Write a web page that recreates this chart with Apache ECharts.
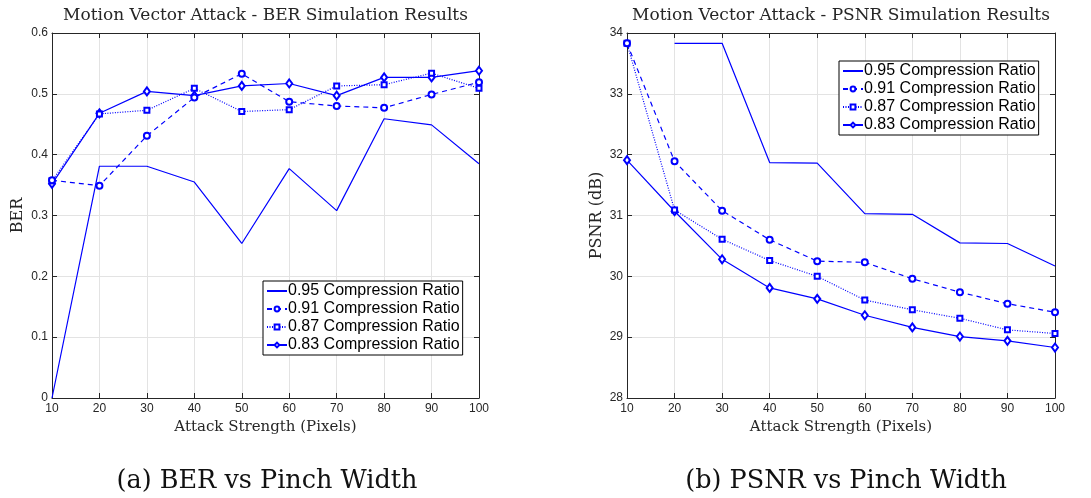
<!DOCTYPE html>
<html>
<head>
<meta charset="utf-8">
<script src="https://cdn.jsdelivr.net/npm/echarts@6/dist/echarts.min.js"></script>
<style>
html,body{margin:0;padding:0;background:#fff;}
#chart{width:1091px;height:498px;}
</style>
</head>
<body>
<div id="chart"></div>
<script>
// ---------- data ----------
const xValues = [10, 20, 30, 40, 50, 60, 70, 80, 90, 100];
const seriesNames = ['0.95 Compression Ratio', '0.91 Compression Ratio', '0.87 Compression Ratio', '0.83 Compression Ratio'];

const ber095 = [0.000, 0.381, 0.381, 0.355, 0.254, 0.377, 0.308, 0.459, 0.449, 0.385];
const ber091 = [0.358, 0.349, 0.431, 0.494, 0.533, 0.487, 0.480, 0.477, 0.499, 0.519];
const ber087 = [0.357, 0.467, 0.473, 0.509, 0.471, 0.474, 0.513, 0.515, 0.534, 0.509];
const ber083 = [0.352, 0.468, 0.504, 0.497, 0.513, 0.517, 0.497, 0.527, 0.527, 0.538];

const psnr095 = [null, 33.83, 33.83, 31.87, 31.86, 31.03, 31.02, 30.55, 30.54, 30.17];
const psnr091 = [33.83, 31.89, 31.08, 30.60, 30.25, 30.23, 29.96, 29.74, 29.55, 29.41];
const psnr087 = [33.83, 31.09, 30.61, 30.26, 30.00, 29.61, 29.45, 29.31, 29.12, 29.06];
const psnr083 = [31.91, 31.07, 30.28, 29.81, 29.63, 29.36, 29.16, 29.01, 28.94, 28.83];

const titles = ['Motion Vector Attack - BER Simulation Results', 'Motion Vector Attack - PSNR Simulation Results'];
const yNames = ['BER', 'PSNR (dB)'];
const xName = 'Attack Strength (Pixels)';
const captions = ['(a) BER vs Pinch Width', '(b) PSNR vs Pinch Width'];

// ---------- chart ----------
const BLUE = '#0000ff';
const AX = '#262626';
const GRIDC = '#e3e3e3';
const SERIF = '"DejaVu Serif", "Liberation Serif", serif';
const SANS = '"Liberation Sans", Arial, sans-serif';

function pairs(vals) {
  const out = [];
  vals.forEach((v, i) => { if (v !== null) out.push([xValues[i], v]); });
  return out;
}

const styles = [
  { symbol: 'none', symbolSize: 0, type: 'solid', fill: 'rgba(0,0,0,0)' },
  { symbol: 'emptyCircle', symbolSize: 6, type: [5, 4], fill: BLUE },
  { symbol: 'emptyRect', symbolSize: 5, type: [1, 1.5], fill: BLUE },
  { symbol: 'emptyDiamond', symbolSize: [6, 8], type: 'solid', fill: BLUE }
];

function makeSeries(gridIdx, arrs) {
  return arrs.map((arr, k) => ({
    name: seriesNames[k],
    type: 'line',
    xAxisIndex: gridIdx * 2,
    yAxisIndex: gridIdx * 2,
    data: pairs(arr),
    symbol: styles[k].symbol,
    symbolSize: styles[k].symbolSize,
    showSymbol: styles[k].symbol !== 'none',
    lineStyle: { color: BLUE, width: 1.2, type: styles[k].type },
    itemStyle: { color: styles[k].fill, borderColor: styles[k].fill, borderWidth: k === 0 ? 0 : 1.2 },
    emphasis: { disabled: true },
    animation: false,
    z: 5 - k
  }));
}

function mainX(gi) {
  return {
    type: 'value', gridIndex: gi, min: 10, max: 100, interval: 10,
    name: xName, nameLocation: 'middle', nameGap: 17,
    nameTextStyle: { fontFamily: SERIF, fontSize: 15, color: AX },
    axisLine: { show: true, onZero: false, lineStyle: { color: AX, width: 1 } },
    axisTick: { show: true, inside: true, length: 5, lineStyle: { color: AX } },
    axisLabel: { fontFamily: SANS, fontSize: 12, color: AX, margin: 5 },
    splitLine: { show: true, lineStyle: { color: GRIDC, width: 1 } }
  };
}
function topX(gi) {
  return {
    type: 'value', gridIndex: gi, min: 10, max: 100, interval: 10, position: 'top',
    axisLine: { show: true, onZero: false, lineStyle: { color: AX, width: 1 } },
    axisTick: { show: true, inside: true, length: 5, lineStyle: { color: AX } },
    axisLabel: { show: false }, splitLine: { show: false }
  };
}
function mainY(gi, min, max, interval, name, gap) {
  return {
    type: 'value', gridIndex: gi, min: min, max: max, interval: interval,
    name: name, nameLocation: 'middle', nameGap: gap, nameRotate: 90,
    nameTextStyle: { fontFamily: SERIF, fontSize: 16, color: AX },
    axisLine: { show: true, onZero: false, lineStyle: { color: AX, width: 1 } },
    axisTick: { show: true, inside: true, length: 5, lineStyle: { color: AX } },
    axisLabel: { fontFamily: SANS, fontSize: 12, color: AX, margin: 4 },
    splitLine: { show: true, lineStyle: { color: GRIDC, width: 1 } }
  };
}
function rightY(gi, min, max, interval) {
  return {
    type: 'value', gridIndex: gi, min: min, max: max, interval: interval, position: 'right',
    axisLine: { show: true, onZero: false, lineStyle: { color: AX, width: 1 } },
    axisTick: { show: true, inside: true, length: 5, lineStyle: { color: AX } },
    axisLabel: { show: false }, splitLine: { show: false }
  };
}

function legendAt(left, top) {
  return {
    orient: 'vertical', left: left, top: top,
    data: seriesNames,
    backgroundColor: '#fff', borderColor: '#000', borderWidth: 1,
    padding: [2, 3, 2, 3], itemGap: 2, itemWidth: 20, itemHeight: 6,
    textStyle: { fontFamily: SANS, fontSize: 16, color: '#000', lineHeight: 16, padding: [0, 0, 0, -4] },
    selectedMode: false
  };
}

const chart = echarts.init(document.getElementById('chart'), null, { renderer: 'canvas' });
const option = {
  backgroundColor: '#fff',
  animation: false,
  title: [
    { text: titles[0], left: 260.5, top: 2, textAlign: 'center',
      textStyle: { fontFamily: SERIF, fontSize: 17, fontWeight: 'normal', color: AX } },
    { text: titles[1], left: 836, top: 2, textAlign: 'center',
      textStyle: { fontFamily: SERIF, fontSize: 17, fontWeight: 'normal', color: AX } },
    { text: captions[0], left: 262, top: 463, textAlign: 'center',
      textStyle: { fontFamily: SERIF, fontSize: 25.5, fontWeight: 'normal', color: '#111' } },
    { text: captions[1], left: 841, top: 463, textAlign: 'center',
      textStyle: { fontFamily: SERIF, fontSize: 25.5, fontWeight: 'normal', color: '#111' } }
  ],
  grid: [
    { left: 52, right: 612, top: 33, bottom: 100, containLabel: false },
    { left: 627, right: 36, top: 33, bottom: 100, containLabel: false }
  ],
  xAxis: [mainX(0), topX(0), mainX(1), topX(1)],
  yAxis: [
    mainY(0, 0, 0.6, 0.1, yNames[0], 26), rightY(0, 0, 0.6, 0.1),
    mainY(1, 28, 34, 1, yNames[1], 22), rightY(1, 28, 34, 1)
  ],
  legend: [legendAt(263, 281), legendAt(839, 61)],
  series: [
    ...makeSeries(0, [ber095, ber091, ber087, ber083]),
    ...makeSeries(1, [psnr095, psnr091, psnr087, psnr083])
  ]
};
chart.setOption(option);
</script>
</body>
</html>
